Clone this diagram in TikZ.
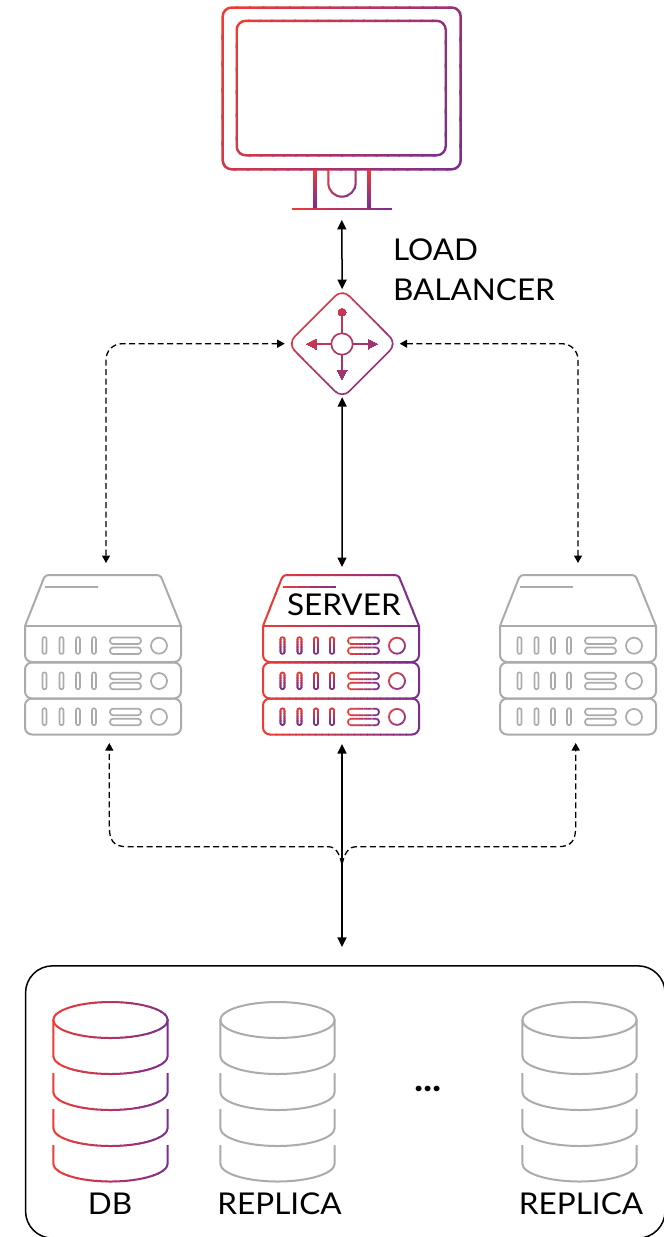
\documentclass[tikz,border=0pt]{standalone}
\usepackage{fontspec}
\setmainfont[FakeStretch=1.05]{Lato}
\usetikzlibrary{arrows.meta}
\definecolor{gred}{HTML}{EF3B33}
\definecolor{gpurple}{HTML}{7A2E8E}
\definecolor{gicon}{HTML}{ABABAB}
\tikzset{
  x=1pt,y=-1pt,
  iconbox/.style={inner sep=0pt,outer sep=0pt,minimum width=#1},
  gline/.style={line width=2pt,line join=round},
  solidconn/.style={line width=1.5pt,black,{Triangle[length=9.5pt,width=9pt]}-{Triangle[length=9.5pt,width=9pt]}},
  dashbase/.style={line width=1.3pt,black,dash pattern=on 6pt off 3.5pt},
  dashconn/.style={dashbase,-{Triangle[length=7.5pt,width=8pt]}},
  dashboth/.style={dashbase,{Triangle[length=7.5pt,width=8pt]}-{Triangle[length=7.5pt,width=8pt]}},
  lbl/.style={font=\fontsize{30}{40}\selectfont,text=black,inner sep=0pt,outer sep=0pt},
}
% one stroked path painted with a linear gradient (x0,y0)->(x1,y1)
\newcommand{\gpcolor}[6][]{%
  \pgfmathsetmacro\gdx{(#4)-(#2)}\pgfmathsetmacro\gdy{(#5)-(#3)}%
  \foreach \gi in {0,...,23}{%
    \pgfmathsetmacro\gta{\gi==0?-2:\gi/24}%
    \pgfmathsetmacro\gtb{\gi==23?3:(\gi+1.15)/24}%
    \pgfmathsetmacro\gpc{100*(\gi+0.5)/24}%
    \colorlet{gc}{gpurple!\gpc!gred}%
    \begin{scope}
      \clip ({#2+\gta*\gdx-3*\gdy},{#3+\gta*\gdy+3*\gdx})
         -- ({#2+\gta*\gdx+3*\gdy},{#3+\gta*\gdy-3*\gdx})
         -- ({#2+\gtb*\gdx+3*\gdy},{#3+\gtb*\gdy-3*\gdx})
         -- ({#2+\gtb*\gdx-3*\gdy},{#3+\gtb*\gdy+3*\gdx}) -- cycle;
      \draw[gline,draw=gc,#1] #6;
    \end{scope}
  }%
}
\newcommand{\gpgray}[6][]{\colorlet{gc}{gicon}\draw[gline,draw=gc,#1] #6;}
\newcommand{\serverart}{%
  \gp{263}{575}{419}{575}{(263,626) -- (281.5,579) [rounded corners=3pt] -- (283.5,575) -- (398,575) -- (400,579) [sharp corners] -- (419,626)}
  \gp[line width=1.6pt]{283}{587}{336}{587}{(283,587) -- (336,587)}
  \gp{263}{626}{419}{626}{(263,626) -- (419,626)}
  \gp{263}{626}{419}{626}{(263,626) [rounded corners=7pt] -- (263,662) -- (419,662) [sharp corners] -- (419,626)}
  \gp{263}{662}{419}{662}{[rounded corners=7pt] (263,662.5) rectangle (419,698.5)}
  \gp{263}{698}{419}{698}{[rounded corners=7pt] (263,698.5) rectangle (419,734.5)}
  \foreach \sy in {0,35.3,71.2}{%
    \foreach \sx in {282.5,299.5,316,332}{%
      \gp[line width=1.6pt]{\sx}{637+\sy}{\sx}{654+\sy}{[rounded corners=2pt] ({\sx-2},{637+\sy}) rectangle ({\sx+2},{654+\sy})}
    }
    \gp[line width=1.7pt]{348}{637+\sy}{379}{637+\sy}{[rounded corners=3pt] (348,{637.5+\sy}) rectangle (379,{644+\sy})}
    \gp[line width=1.7pt]{348}{647+\sy}{379}{647+\sy}{[rounded corners=3pt] (348,{647.5+\sy}) rectangle (379,{654+\sy})}
    \gp[line width=1.7pt]{389}{637+\sy}{405}{654+\sy}{(397,{645.7+\sy}) circle[radius=8pt]}
  }%
}
\newcommand{\dbart}{%
  \gp{53.3}{1002}{167.7}{1038}{(110.5,1020) circle[x radius=57.2pt,y radius=18pt]}
  \gp{53.3}{1020}{167.7}{1020}{(53.3,1020) -- (53.3,1056) arc[start angle=180,end angle=360,x radius=57.2pt,y radius=18pt] -- (167.7,1020)}
  \gp{53.3}{1073}{167.7}{1073}{(53.3,1073) -- (53.3,1092) arc[start angle=180,end angle=360,x radius=57.2pt,y radius=18pt] -- (167.7,1073)}
  \gp{53.3}{1109}{167.7}{1109}{(53.3,1109) -- (53.3,1128) arc[start angle=180,end angle=360,x radius=57.2pt,y radius=18pt] -- (167.7,1109)}
  \gp{53.3}{1145}{167.7}{1145}{(53.3,1145) -- (53.3,1163.5) arc[start angle=180,end angle=360,x radius=57.2pt,y radius=18pt] -- (167.7,1145)}
}
\begin{document}
\begin{tikzpicture}
\useasboundingbox (0,0) rectangle (664,1237);
\fill[white] (0,0) rectangle (664,1237);
% named icon frames
\node[iconbox=238pt,minimum height=202.7pt] (monitor) at (341.7,108.6) {};
\node[iconbox=101pt,minimum height=101pt] (lb) at (342.2,343.7) {};
\node[iconbox=156pt,minimum height=160pt] (srvL) at (103,655) {};
\node[iconbox=156pt,minimum height=160pt] (srvC) at (341,655) {};
\node[iconbox=156pt,minimum height=160pt] (srvR) at (578,655) {};
\node[iconbox=639.5pt,minimum height=272.3pt,draw=black,line width=1.5pt,rounded corners=27pt] (storage) at (345.3,1102) {};
\coordinate (jn) at (342,864);
% monitor
\let\gp\gpcolor
\gp[line width=2.5pt]{222}{8}{477}{135.6}{[rounded corners=9pt] (222.7,7.5) rectangle (460.7,169.3)}
\gp[line width=2.4pt]{236}{21}{457}{131.5}{[rounded corners=9pt] (236.7,20.8) rectangle (445.7,155.3)}
\gp[line width=3.3pt]{315}{170}{315}{208}{(315,169.5) -- (315,208)}
\gp[line width=3.3pt]{369}{170}{369}{208}{(369,169.5) -- (369,208)}
\gp{328}{169}{356}{197}{(328.3,169.5) -- (328.3,183) arc[start angle=180,end angle=360,radius=13.7pt] -- (355.7,169.5)}
\gp{291.7}{209}{391.7}{209}{(291.7,209) -- (391.7,209)}
% load balancer
\gp[line width=1.6pt]{291.7}{293}{392.7}{394.4}{[rounded corners=10pt] (342.2,289) -- (396.8,343.7) -- (342.2,398.4) -- (287.6,343.7) -- cycle}
\gp[line width=1.5pt]{292}{293}{393}{394}{(342,333.5) -- (342,312.3) (331.4,344) -- (312,344) (352.6,344) -- (372,344) (342,354.6) -- (342,374)}
\gp[line width=1.6pt]{292}{293}{393}{394}{(342,344) circle[radius=10.7pt]}
\gp[fill=gc,line width=0pt]{292}{293}{393}{394}{(342,312.3) circle[radius=4pt]}
\gp[fill=gc,line width=0pt]{292}{293}{393}{394}{(306.5,344) -- (316,339) -- (316,349) -- cycle}
\gp[fill=gc,line width=0pt]{292}{293}{393}{394}{(377.5,344) -- (368,339) -- (368,349) -- cycle}
\gp[fill=gc,line width=0pt]{292}{293}{393}{394}{(342,379.5) -- (337,370) -- (347,370) -- cycle}
% servers
\serverart
\let\gp\gpgray
\begin{scope}[shift={(-238pt,0pt)}]\serverart\end{scope}
\begin{scope}[shift={(237pt,0pt)}]\serverart\end{scope}
% databases
\let\gp\gpcolor
\dbart
\let\gp\gpgray
\begin{scope}[shift={(167pt,0pt)}]\dbart\end{scope}
\begin{scope}[shift={(469pt,0pt)}]\dbart\end{scope}
% labels
\node[lbl,anchor=base west,align=left] (lblLB) at (393,300) {LOAD\\BALANCER};
\node[lbl,anchor=base west] (lblS) at (287,615) {SERVER};
\node[lbl,anchor=base] (lblDB) at (110,1214) {DB};
\node[lbl,anchor=base] (lblR1) at (279.5,1214) {REPLICA};
\node[lbl,anchor=base] (lblR2) at (581,1214) {REPLICA};
\node[lbl,anchor=base,font=\fontsize{37}{40}\selectfont\bfseries] (dots) at (428,1091) {...};
% connectors
\draw[solidconn,shorten <=10pt,shorten >=4pt] (monitor.south) -- (lb.north);
\draw[solidconn,shorten <=3pt,shorten >=8pt] (lb.south) -- ([xshift=1pt]srvC.north);
\draw[solidconn,shorten <=9pt,shorten >=19pt] ([xshift=1pt]srvC.south) -- ([xshift=-3.3pt]storage.north);
\draw[dashboth,rounded corners=16pt,shorten <=7pt,shorten >=12pt] (lb.west) -| ([xshift=3pt]srvL.north);
\draw[dashboth,rounded corners=16pt,shorten <=7pt,shorten >=12pt] (lb.east) -| (srvR.north);
\draw[dashconn,shorten >=8pt] (jn) .. controls (339,853) and (336,846.7) .. (328,846.7) -- (127,846.7) .. controls (113,846.7) and (109.3,840) .. (109.3,826) -- ([xshift=6.3pt]srvL.south);
\draw[dashconn,shorten >=8pt] (jn) .. controls (345,853) and (348,846.7) .. (356.7,846.7) -- (558,846.7) .. controls (572,846.7) and (575.7,840) .. (575.7,826) -- ([xshift=-2.3pt]srvR.south);
\end{tikzpicture}
\end{document}
